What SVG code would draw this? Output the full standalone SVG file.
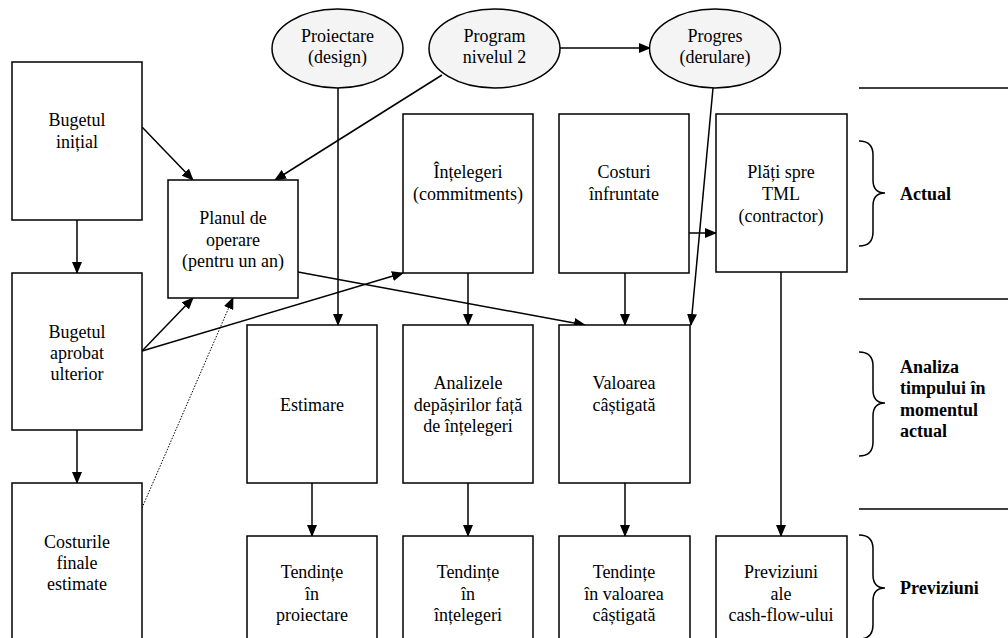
<svg xmlns="http://www.w3.org/2000/svg" width="1008" height="638" viewBox="0 0 1008 638">
<defs>
<marker id="ah" markerUnits="userSpaceOnUse" markerWidth="12" markerHeight="10" refX="11" refY="5" orient="auto">
<path d="M0,0 L12,5 L0,10 z" fill="#000"/>
</marker>
<style>
text{font-family:"Liberation Serif","Times New Roman",Times,"Noto Serif","DejaVu Serif",Tinos,serif}
.b{fill:#fff;stroke:#000;stroke-width:1.5}
.e{fill:#f4f4f4;stroke:#000;stroke-width:1.5}
.t{font-size:18px;text-anchor:middle;fill:#000}
.tb{font-size:18px;font-weight:bold;fill:#000}
.c{fill:none;stroke:#000;stroke-width:1.5}
.a{marker-end:url(#ah)}
.d{stroke-dasharray:1.5 1.5;stroke-width:1}
.br{fill:none;stroke:#000;stroke-width:1.5}
</style>
</defs>
<rect width="1008" height="638" fill="#fff"/>

<g id="connectors">
<line class="c a" x1="77" y1="220" x2="77" y2="273"/>
<line class="c a" x1="77" y1="430" x2="77" y2="483"/>
<line class="c a" x1="142" y1="127" x2="193" y2="180"/>
<line class="c a" x1="442" y1="75" x2="275" y2="180"/>
<line class="c a" x1="142" y1="351" x2="193" y2="298"/>
<line class="c a" x1="142" y1="351" x2="403" y2="273"/>
<line class="c a d" x1="142" y1="508" x2="233" y2="298"/>
<line class="c a" x1="298" y1="272" x2="585" y2="325"/>
<line class="c a" x1="338" y1="88" x2="338" y2="325"/>
<line class="c a" x1="560" y1="48" x2="650" y2="48"/>
<line class="c a" x1="713" y1="88" x2="691" y2="325"/>
<line class="c a" x1="689" y1="233" x2="716" y2="233"/>
<line class="c a" x1="468" y1="273" x2="468" y2="325"/>
<line class="c a" x1="625" y1="273" x2="625" y2="325"/>
<line class="c a" x1="312" y1="483" x2="312" y2="536"/>
<line class="c a" x1="468" y1="483" x2="468" y2="536"/>
<line class="c a" x1="625" y1="483" x2="625" y2="536"/>
<line class="c a" x1="781" y1="272" x2="781" y2="536"/>
</g>

<g id="n-bugetul-initial">
<rect class="b" x="12" y="62" width="130" height="158"/>
<text class="t" x="77" y="126">Bugetul</text>
<text class="t" x="77" y="148">inițial</text>
</g>
<g id="n-bugetul-aprobat">
<rect class="b" x="12" y="273" width="130" height="157"/>
<text class="t" x="77" y="338">Bugetul</text>
<text class="t" x="77" y="359">aprobat</text>
<text class="t" x="77" y="380">ulterior</text>
</g>
<g id="n-costurile-finale">
<rect class="b" x="12" y="483" width="130" height="170"/>
<text class="t" x="77" y="548">Costurile</text>
<text class="t" x="77" y="569">finale</text>
<text class="t" x="77" y="590">estimate</text>
</g>
<g id="n-planul">
<rect class="b" x="168" y="180" width="130" height="118"/>
<text class="t" x="233" y="224">Planul de</text>
<text class="t" x="233" y="246">operare</text>
<text class="t" x="233" y="267">(pentru un an)</text>
</g>

<g id="n-proiectare">
<ellipse class="e" cx="337.5" cy="48.5" rx="65.5" ry="39.5"/>
<text class="t" x="337.5" y="42">Proiectare</text>
<text class="t" x="337.5" y="63">(design)</text>
</g>
<g id="n-program">
<ellipse class="e" cx="494.5" cy="48.5" rx="65.5" ry="39.5"/>
<text class="t" x="494.5" y="42">Program</text>
<text class="t" x="494.5" y="63">nivelul 2</text>
</g>
<g id="n-progres">
<ellipse class="e" cx="715" cy="48.5" rx="65.5" ry="39.5"/>
<text class="t" x="715" y="42">Progres</text>
<text class="t" x="715" y="63">(derulare)</text>
</g>

<g id="n-intelegeri">
<rect class="b" x="403" y="114" width="130" height="159"/>
<text class="t" x="468" y="178">Înțelegeri</text>
<text class="t" x="468" y="200">(commitments)</text>
</g>
<g id="n-costuri">
<rect class="b" x="559" y="114" width="130" height="159"/>
<text class="t" x="624" y="178">Costuri</text>
<text class="t" x="624" y="200">înfruntate</text>
</g>
<g id="n-plati">
<rect class="b" x="716" y="114" width="131" height="158"/>
<text class="t" x="781" y="178">Plăți spre</text>
<text class="t" x="781" y="200">TML</text>
<text class="t" x="781" y="222">(contractor)</text>
</g>

<g id="n-estimare">
<rect class="b" x="247" y="325" width="130" height="158"/>
<text class="t" x="312" y="411">Estimare</text>
</g>
<g id="n-analizele">
<rect class="b" x="403" y="325" width="130" height="158"/>
<text class="t" x="468" y="389">Analizele</text>
<text class="t" x="468" y="411">depășirilor față</text>
<text class="t" x="468" y="432">de înțelegeri</text>
</g>
<g id="n-valoarea">
<rect class="b" x="559" y="325" width="131" height="158"/>
<text class="t" x="624" y="389">Valoarea</text>
<text class="t" x="624" y="411">câștigată</text>
</g>

<g id="n-tend-proiectare">
<rect class="b" x="247" y="536" width="130" height="120"/>
<text class="t" x="312" y="578">Tendințe</text>
<text class="t" x="312" y="600">în</text>
<text class="t" x="312" y="621">proiectare</text>
</g>
<g id="n-tend-intelegeri">
<rect class="b" x="403" y="536" width="130" height="120"/>
<text class="t" x="468" y="578">Tendințe</text>
<text class="t" x="468" y="600">în</text>
<text class="t" x="468" y="621">înțelegeri</text>
</g>
<g id="n-tend-valoarea">
<rect class="b" x="559" y="536" width="131" height="120"/>
<text class="t" x="624" y="578">Tendințe</text>
<text class="t" x="624" y="600">în valoarea</text>
<text class="t" x="624" y="621">câștigată</text>
</g>
<g id="n-previziuni-cf">
<rect class="b" x="716" y="536" width="131" height="120"/>
<text class="t" x="781" y="578">Previziuni</text>
<text class="t" x="781" y="600">ale</text>
<text class="t" x="781" y="621">cash-flow-ului</text>
</g>

<g id="legend">
<line class="c" x1="859" y1="88" x2="1008" y2="88"/>
<line class="c" x1="859" y1="299" x2="1008" y2="299"/>
<line class="c" x1="859" y1="509" x2="1008" y2="509"/>
<path class="br" d="M859,141 Q873,141 873,155 L873,180 Q873,193 885,193 Q873,193 873,206 L873,232 Q873,246 859,246"/>
<text class="tb" x="900" y="200">Actual</text>
<path class="br" d="M859,352 Q873,352 873,366 L873,390 Q873,403 885,403 Q873,403 873,416 L873,442 Q873,456 859,456"/>
<text class="tb" x="900" y="373">Analiza</text>
<text class="tb" x="900" y="394">timpului în</text>
<text class="tb" x="900" y="416">momentul</text>
<text class="tb" x="900" y="437">actual</text>
<path class="br" d="M859,535 Q873,535 873,549 L873,575 Q873,588 885,588 Q873,588 873,601 L873,625 Q873,639 859,639"/>
<text class="tb" x="900" y="594">Previziuni</text>
</g>
</svg>
